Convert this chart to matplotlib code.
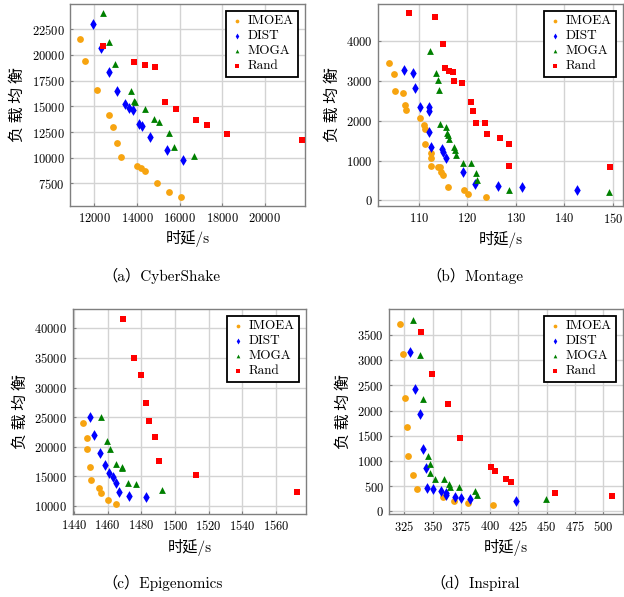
import matplotlib
matplotlib.use("Agg")
import matplotlib.pyplot as plt

plt.rcParams['font.family'] = ['cmr10', 'Noto Sans CJK SC', 'DejaVu Sans']
plt.rcParams['axes.formatter.use_mathtext'] = True
plt.rcParams['axes.unicode_minus'] = False

# ---------------- (a) CyberShake ----------------
a_imoea_x = [11310, 11576, 12141, 12706, 12894, 13082, 13270, 13992, 14196, 14384, 14933, 15498, 16063]
a_imoea_y = [21530, 19383, 16590, 14123, 12955, 11396, 10032, 9156, 9026, 8669, 7500, 6656, 6169]
a_dist_x = [11922, 12298, 12706, 13082, 13459, 13616, 13835, 14086, 14243, 14620, 15404, 16173]
a_dist_y = [22987, 20649, 18312, 16494, 15195, 14805, 14643, 13312, 13084, 12013, 10714, 9740]
a_moga_x = [12392, 12706, 12988, 13710, 13882, 13898, 14384, 14792, 15012, 15498, 15718, 16690]
a_moga_y = [24058, 21299, 19091, 16526, 15519, 15390, 14773, 13766, 13506, 12435, 11071, 10162]
a_rand_x = [12392, 13882, 14369, 14855, 15325, 15812, 16784, 17271, 18227, 21773]
a_rand_y = [20909, 19286, 19058, 18831, 15390, 14773, 13669, 13149, 12338, 11753]

# ---------------- (b) Montage ----------------
b_imoea_x = [103.85, 104.86, 105.2, 106.76, 107.23, 107.36, 110.27, 111.08, 111.22, 111.22, 112.6, 112.6, 112.6,
             114.05, 114.4, 114.66, 114.93, 116.0, 119.3, 120.1, 123.8]
b_imoea_y = [3447, 3178, 2750, 2692, 2407, 2272, 2063, 1887, 1786, 1417, 1199, 1065, 872,
             839, 830, 704, 637, 344, 260, 151, 92]
b_dist_x = [106.9, 108.8, 109.26, 110.2, 112.1, 112.16, 112.23, 112.57, 114.73, 115.1, 115.54, 119.05, 121.55,
            126.4, 131.35, 142.57]
b_dist_y = [3279, 3203, 2818, 2348, 2340, 2247, 1727, 1350, 1283, 1224, 1057, 704, 403, 369, 344, 252]
b_moga_x = [112.36, 113.58, 113.92, 114.19, 114.32, 115.54, 115.88, 116.08, 116.2, 117.36, 117.57, 117.77,
            119.05, 120.68, 121.9, 121.96, 128.58, 149.19]
b_moga_y = [3765, 3212, 3019, 2767, 1912, 1836, 1702, 1644, 1535, 1342, 1258, 1132, 939, 939, 688, 512, 268, 218]
b_rand_x = [107.97, 113.3, 114.93, 115.34, 116.2, 117.0, 117.36, 118.85, 120.74, 121.28, 121.76, 123.65,
            124.05, 126.69, 128.65, 128.65, 149.46]
b_rand_y = [4704, 4621, 3941, 3338, 3245, 3228, 3011, 2943, 2465, 2239, 1954, 1937, 1677, 1568, 1409, 872, 847]

# ---------------- (c) Epigenomics ----------------
c_imoea_x = [1445.55, 1447.9, 1447.9, 1449.3, 1450.1, 1454.9, 1456.25, 1460.2, 1464.8]
c_imoea_y = [23956, 21536, 19679, 16584, 14333, 13095, 12195, 11069, 10394]
c_dist_x = [1449.5, 1452.1, 1455.7, 1458.6, 1460.8, 1463.0, 1464.8, 1467.0, 1472.5, 1482.8]
c_dist_y = [24969, 21930, 18948, 16866, 15571, 14896, 13827, 12307, 11688, 11463]
c_moga_x = [1455.9, 1459.8, 1461.2, 1465.0, 1468.5, 1468.5, 1471.9, 1477.1, 1492.1]
c_moga_y = [24969, 20917, 19623, 17034, 16528, 16400, 13939, 13714, 12645]
c_rand_x = [1468.9, 1475.7, 1479.8, 1483.0, 1484.4, 1488.0, 1490.5, 1512.5, 1572.4]
c_rand_y = [41570, 34930, 32060, 27333, 24350, 21593, 17597, 15290, 12364]

# ---------------- (d) Inspiral ----------------
d_imoea_x = [321.2, 323.8, 325.6, 327.3, 328.5, 332.6, 335.8, 358.7, 368.7, 381.0, 403.0]
d_imoea_y = [3719, 3124, 2244, 1674, 1099, 715, 450, 285, 199, 172, 126]
d_dist_x = [330.0, 334.7, 338.5, 341.4, 343.8, 344.9, 350.2, 357.2, 361.4, 361.4, 369.3, 374.5, 382.5, 423.5]
d_dist_y = [3163, 2422, 1939, 1231, 854, 463, 437, 404, 371, 330, 285, 258, 238, 205]
d_moga_x = [332.3, 338.8, 341.1, 346.1, 347.6, 347.9, 352.3, 360.2, 364.6, 364.9, 373.1, 386.9, 388.6, 449.9]
d_moga_y = [3799, 3104, 2224, 1105, 946, 754, 649, 635, 543, 490, 476, 397, 324, 245]
d_rand_x = [340.0, 349.3, 363.1, 373.7, 401.5, 404.4, 414.7, 418.8, 457.2, 507.9]
d_rand_y = [3561, 2720, 2124, 1456, 880, 801, 635, 576, 364, 304]

series_names = ["IMOEA", "DIST", "MOGA", "Rand"]
captions = ["（a）CyberShake", "（b）Montage", "（c）Epigenomics", "（d）Inspiral"]
xlabel = "时延/s"
ylabel = "负 载 均 衡"

panels = [
    dict(data=[(a_imoea_x, a_imoea_y), (a_dist_x, a_dist_y), (a_moga_x, a_moga_y), (a_rand_x, a_rand_y)],
         xlim=(10850, 21900), ylim=(5300, 24950),
         xticks=[12000, 14000, 16000, 18000, 20000], yticks=[7500, 10000, 12500, 15000, 17500, 20000, 22500],
         pos=[0.1122, 0.6549, 0.3766, 0.3384], cap=(0.258, 0.525)),
    dict(data=[(b_imoea_x, b_imoea_y), (b_dist_x, b_dist_y), (b_moga_x, b_moga_y), (b_rand_x, b_rand_y)],
         xlim=(101.7, 152.0), ylim=(-140, 4940),
         xticks=[110, 120, 130, 140, 150], yticks=[0, 1000, 2000, 3000, 4000],
         pos=[0.6063, 0.6549, 0.3917, 0.3384], cap=(0.761, 0.525)),
    dict(data=[(c_imoea_x, c_imoea_y), (c_dist_x, c_dist_y), (c_moga_x, c_moga_y), (c_rand_x, c_rand_y)],
         xlim=(1439.2, 1578.0), ylim=(8700, 43260),
         xticks=[1440, 1460, 1480, 1500, 1520, 1540, 1560], yticks=[10000, 15000, 20000, 25000, 30000, 35000, 40000],
         pos=[0.1165, 0.1395, 0.3739, 0.3429], cap=(0.260, 0.010)),
    dict(data=[(d_imoea_x, d_imoea_y), (d_dist_x, d_dist_y), (d_moga_x, d_moga_y), (d_rand_x, d_rand_y)],
         xlim=(311.8, 517.0), ylim=(-60, 4016),
         xticks=[325, 350, 375, 400, 425, 450, 475, 500], yticks=[0, 500, 1000, 1500, 2000, 2500, 3000, 3500],
         pos=[0.6239, 0.1385, 0.3741, 0.3439], cap=(0.761, 0.010)),
]

styles = [
    dict(marker='o', color='#F7A410', s=24),
    dict(marker='d', color='#0000FF', s=30),
    dict(marker='^', color='#008000', s=24),
    dict(marker='s', color='#FF0000', s=22),
]

fig = plt.figure(figsize=(6.24, 5.97), dpi=100)

for p, cap_text in zip(panels, captions):
    ax = fig.add_axes(p['pos'])
    for (xs, ys), name, st in zip(p['data'], series_names, styles):
        ax.scatter(xs, ys, marker=st['marker'], c=st['color'], s=st['s'],
                   linewidths=0, label=name, zorder=3)
    ax.set_xlim(*p['xlim'])
    ax.set_ylim(*p['ylim'])
    ax.set_xticks(p['xticks'])
    ax.set_yticks(p['yticks'])
    ax.grid(True, color='#d3d3d3', linewidth=1.0, zorder=0)
    ax.set_axisbelow(True)
    for sp in ax.spines.values():
        sp.set_color('#7f7f7f')
        sp.set_linewidth(1.0)
    ax.tick_params(direction='in', length=2.5, color='#808080', labelsize=9, pad=4)
    ax.set_xlabel(xlabel, fontsize=11, labelpad=4)
    ax.set_ylabel(ylabel, fontsize=11.5, labelpad=4, family=['Noto Sans CJK SC', 'DejaVu Sans'])
    leg = ax.legend(loc='upper right', fontsize=9.5, scatterpoints=1, markerscale=0.55,
                    fancybox=False, framealpha=1, edgecolor='black', borderpad=0.35,
                    handletextpad=0.3, labelspacing=0.2, handlelength=1.0, borderaxespad=0.5)
    leg.get_frame().set_linewidth(1.3)
    cx, cy = p['cap']
    fig.text(cx, cy, cap_text, fontsize=11, ha='center', va='bottom')

fig.savefig("out.png", dpi=100)
